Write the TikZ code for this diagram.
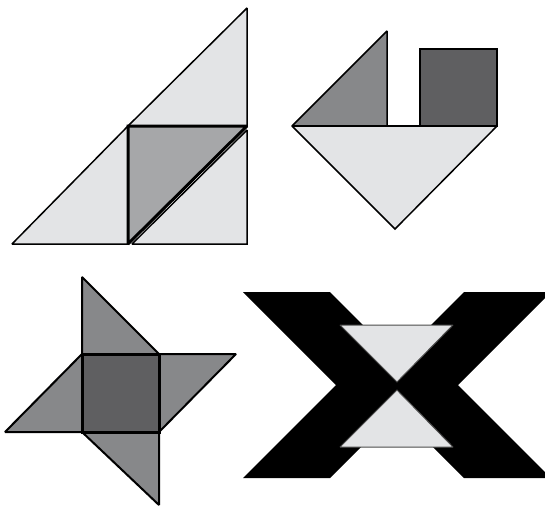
\documentclass[tikz,border=0pt]{standalone}
\usepackage{tikz}
\definecolor{tanlight}{HTML}{E3E4E6}
\definecolor{tanmid}{HTML}{A6A7A9}
\definecolor{tangray}{HTML}{87888A}
\definecolor{tandark}{HTML}{5F5F61}

\begin{document}
\begin{tikzpicture}[
      x=1pt, y=-1pt, line join=miter, miter limit=2,
      piece/.style={draw=black, line width=1.5pt},
      bold/.style={draw=black, line width=3pt},
      xbar/.style={fill=black},
      xtri/.style={fill=tanlight, draw=black!70, line width=1pt}
    ]
    \clip (0,0) rectangle (545,509);
    \fill[white] (0,0) rectangle (545,509);
    % sail: big triangle in four parts
    \filldraw[piece, fill=tanlight] (128,126) -- (247,8) -- (247,126) -- cycle;
    \filldraw[piece, fill=tanlight] (12,244) -- (128,126) -- (128,244) -- cycle;
    \filldraw[piece, fill=tanlight] (132,244) -- (247,244) -- (247,130) -- cycle;
    \filldraw[bold, fill=tanmid] (128,126) -- (247,126) -- (128,244) -- cycle;
    % boat
    \filldraw[piece, fill=tanlight] (292,126) -- (497,126) -- (395,229) -- cycle;
    \filldraw[piece, fill=tangray] (292,126) -- (387,31) -- (387,126) -- cycle;
    \filldraw[piece, fill=tandark] (420,49) rectangle (497,126);
    \draw[line width=2.2pt] (292,126) -- (497,126);
    % pinwheel
    \filldraw[piece, line width=2pt, fill=tangray] (82,277) -- (159,354) -- (82,354) -- cycle;
    \filldraw[piece, line width=2pt, fill=tangray] (236,354) -- (159,432) -- (159,354) -- cycle;
    \filldraw[piece, line width=2pt, fill=tangray] (159,505) -- (82,432) -- (159,432) -- cycle;
    \filldraw[piece, line width=2pt, fill=tangray] (5,432) -- (82,354) -- (82,432) -- cycle;
    \filldraw[bold, fill=tandark] (82,354) rectangle (159,432);
    % the X
    \fill[xbar] (243,292) -- (330,292) -- (397,359) -- (464,292) -- (551,292)
      -- (458,385) -- (551,478) -- (464,478) -- (397,411) -- (330,478)
      -- (243,478) -- (336,385) -- cycle;
    \filldraw[xtri] (340,325) -- (453,325) -- (397,382) -- cycle;
    \filldraw[xtri] (397,390) -- (453,447) -- (340,447) -- cycle;
  \end{tikzpicture}
\end{document}
